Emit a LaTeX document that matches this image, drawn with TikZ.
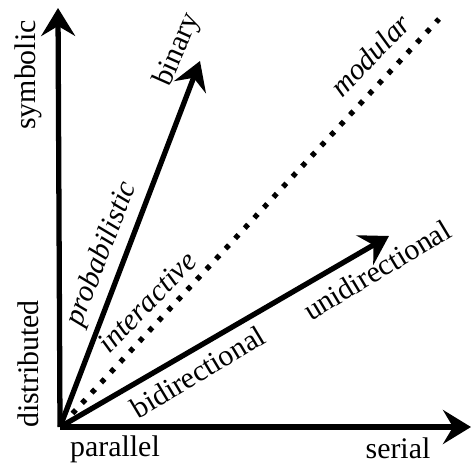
\documentclass[tikz,border=0pt]{standalone}
\usepackage{fontspec}
\setmainfont{Liberation Serif}
\usetikzlibrary{arrows.meta}

\begin{document}
\begin{tikzpicture}[
  every node/.style={font=\fontsize{17}{20}\selectfont, inner sep=1pt},
  axis/.style={line width=3pt, -{Stealth[length=5.6mm, width=6.8mm, inset=2mm]}},
  dotline/.style={line width=3pt, dash pattern=on 2.8pt off 5.2pt},
  slanted/.style={font=\fontsize{17}{20}\selectfont\itshape}
]
\useasboundingbox (-1.2,-0.72) rectangle (8.26,8.54);

\coordinate (o) at (0,0);
\coordinate (ytip) at (-0.04,8.38);
\coordinate (xtip) at (8.22,0);
\coordinate (bintip) at (2.8,7.32);
\coordinate (unitip) at (6.58,3.82);
\coordinate (modbeg) at (0.25,0.27);
\coordinate (modend) at (7.58,8.16);

% axes
\draw[axis] (o) -- (ytip);
\draw[axis] (o) -- (xtip);

% the three directions
\draw[axis] (o) -- (bintip);
\draw[axis] (o) -- (unitip);
\draw[dotline] (modbeg) -- (modend);

\node[rotate=90] (symb) at (-0.64,7.04) {symbolic};
\node[rotate=90] (distr) at (-0.64,1.26) {distributed};
\node (par) at (1.1,-0.44) {parallel};
\node (ser) at (6.76,-0.42) {serial};

\node[rotate=66] (bin) at (2.36,7.54) {binary};
\node[slanted, rotate=69] (prob) at (0.84,3.46) {probabilistic};
\node[slanted, rotate=46] (inter) at (1.74,2.5) {interactive};
\node[slanted, rotate=46] (modu) at (6.2,7.44) {modular};
\node[rotate=31] (bidir) at (2.76,1.1) {bidirectional};
\node[rotate=31] (unidir) at (6.34,3.14) {unidirectional};

\end{tikzpicture}
\end{document}
